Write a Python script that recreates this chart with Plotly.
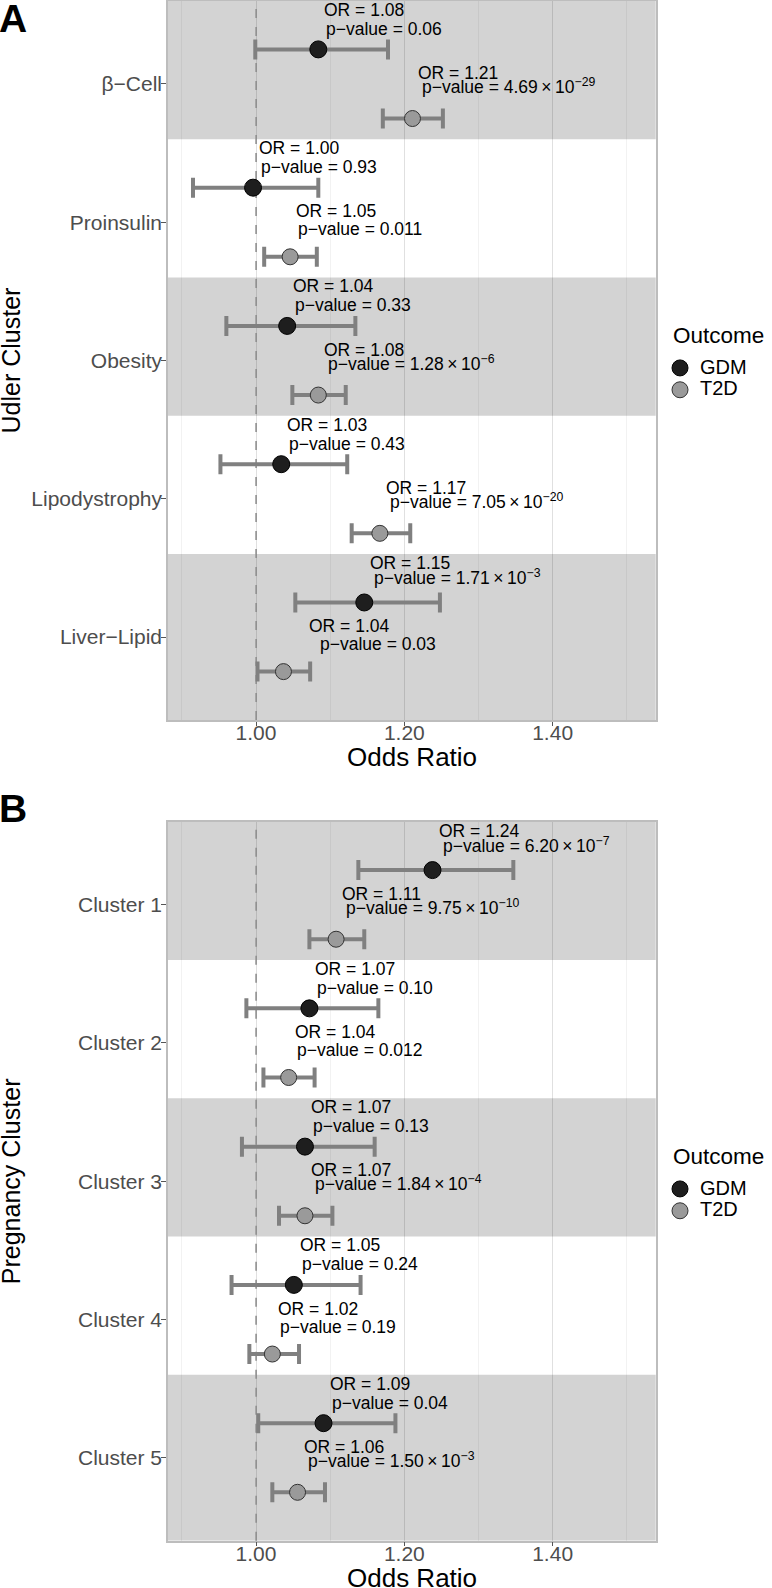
import plotly.graph_objects as go

W, H = 772, 1588
FONT = "Liberation Sans, Arial, Helvetica, sans-serif"

# ---------------- data ----------------
udler_clusters = ["\u03b2\u2212Cell", "Proinsulin", "Obesity", "Lipodystrophy", "Liver\u2212Lipid"]
udler_gdm_or = [1.084, 0.996, 1.042, 1.034, 1.146]
udler_gdm_lo = [0.999, 0.915, 0.960, 0.952, 1.053]
udler_gdm_hi = [1.178, 1.084, 1.134, 1.123, 1.248]
udler_gdm_label = ["1.08", "1.00", "1.04", "1.03", "1.15"]
udler_gdm_p = ["0.06", "0.93", "0.33", "0.43", "1.71e-3"]
udler_t2d_or = [1.211, 1.046, 1.084, 1.167, 1.037]
udler_t2d_lo = [1.171, 1.011, 1.049, 1.129, 1.002]
udler_t2d_hi = [1.252, 1.082, 1.121, 1.208, 1.073]
udler_t2d_label = ["1.21", "1.05", "1.08", "1.17", "1.04"]
udler_t2d_p = ["4.69e-29", "0.011", "1.28e-6", "7.05e-20", "0.03"]

preg_clusters = ["Cluster 1", "Cluster 2", "Cluster 3", "Cluster 4", "Cluster 5"]
preg_gdm_or = [1.238, 1.072, 1.066, 1.051, 1.091]
preg_gdm_lo = [1.138, 0.987, 0.981, 0.967, 1.003]
preg_gdm_hi = [1.347, 1.165, 1.160, 1.141, 1.188]
preg_gdm_label = ["1.24", "1.07", "1.07", "1.05", "1.09"]
preg_gdm_p = ["6.20e-7", "0.10", "0.13", "0.24", "0.04"]
preg_t2d_or = [1.108, 1.044, 1.066, 1.022, 1.056]
preg_t2d_lo = [1.072, 1.010, 1.031, 0.991, 1.022]
preg_t2d_hi = [1.146, 1.079, 1.103, 1.058, 1.093]
preg_t2d_label = ["1.11", "1.04", "1.07", "1.02", "1.06"]
preg_t2d_p = ["9.75e-10", "0.012", "1.84e-4", "0.19", "1.50e-3"]

x_ticks = [1.00, 1.20, 1.40]
x_minor = [0.90, 1.10, 1.30, 1.50]
x_range = [0.8813, 1.539]

# ---------------- style ----------------
GDM_FILL, GDM_LINE = "#1e1e1e", "#000000"
T2D_FILL, T2D_LINE = "#9a9a9a", "#333333"
ERR_COLOR = "#808080"
BAND = "#d3d3d3"
TICK_COLOR = "#4d4d4d"
LABEL_FONT = 17.5

# label offsets in pixels (relative to the point)
OFF = {
    "GDM": dict(l1=39.5, l2_plain=20.5, l2_sci=25.5),
    "T2D": dict(l1=45.5, l2_plain=27.5, l2_sci=32.5),
}
XS_L1 = 4
XS_L2_PLAIN = 6
XS_L2_SCI = 8
# special horizontal offsets (panel, outcome, index) -> (l1, l2)
XS_SPECIAL = {(0, "T2D", 4): (24, 35)}


def fmt_p(s):
    if "e" in s:
        m, e = s.split("e")
        return f"p\u2212value = {m}\u2009\u00d7\u200910<sup>\u2212{e.lstrip('-')}</sup>", True
    return f"p\u2212value = {s}", False


panels = [
    dict(top=1.0, bottom=720.0, cats=udler_clusters, title="Udler Cluster", label="A",
         label_y=19, legend_title_y=335, legend_top=352,
         series={"GDM": (udler_gdm_or, udler_gdm_lo, udler_gdm_hi, udler_gdm_label, udler_gdm_p),
                 "T2D": (udler_t2d_or, udler_t2d_lo, udler_t2d_hi, udler_t2d_label, udler_t2d_p)}),
    dict(top=821.7, bottom=1540.7, cats=preg_clusters, title="Pregnancy Cluster", label="B",
         label_y=808, legend_title_y=1156, legend_top=1173,
         series={"GDM": (preg_gdm_or, preg_gdm_lo, preg_gdm_hi, preg_gdm_label, preg_gdm_p),
                 "T2D": (preg_t2d_or, preg_t2d_lo, preg_t2d_hi, preg_t2d_label, preg_t2d_p)}),
]

X_LEFT, X_RIGHT = 168.0, 655.7

fig = go.Figure()
shapes = []
annotations = []
layout = {}

for k, pn in enumerate(panels):
    sfx = "" if k == 0 else str(k + 1)
    xa, ya = "x" + sfx, "y" + sfx
    legend_name = "legend" if k == 0 else "legend2"
    n = len(pn["cats"])
    pos = [n - i for i in range(n)]  # top category highest

    for outcome, dodge in (("GDM", 0.25), ("T2D", -0.25)):
        orv, lo, hi, lab, pv = pn["series"][outcome]
        fill = GDM_FILL if outcome == "GDM" else T2D_FILL
        edge = GDM_LINE if outcome == "GDM" else T2D_LINE
        size = 17 if outcome == "GDM" else 16
        ys = [p + dodge for p in pos]
        fig.add_trace(go.Scatter(
            x=orv, y=ys, mode="markers", xaxis=xa, yaxis=ya,
            name=f"<span style='font-size:20px'>{outcome}</span>",
            legend=legend_name,
            marker=dict(color=fill, size=size, line=dict(color=edge, width=1)),
            error_x=dict(type="data", symmetric=False,
                         array=[h - o for h, o in zip(hi, orv)],
                         arrayminus=[o - l for o, l in zip(orv, lo)],
                         color=ERR_COLOR, thickness=4, width=10),
            hoverinfo="skip",
        ))
        for i, (o, y, lb, p) in enumerate(zip(orv, ys, lab, pv)):
            ptxt, sci = fmt_p(p)
            xs1, xs2 = XS_SPECIAL.get((k, outcome, i),
                                      (XS_L1, XS_L2_SCI if sci else XS_L2_PLAIN))
            off = OFF[outcome]
            annotations.append(dict(
                x=o, y=y, xref=xa, yref=ya, text=f"OR = {lb}", showarrow=False,
                xanchor="left", yanchor="middle", xshift=xs1, yshift=off["l1"],
                font=dict(family=FONT, size=LABEL_FONT, color="#000")))
            annotations.append(dict(
                x=o, y=y, xref=xa, yref=ya, text=ptxt, showarrow=False,
                xanchor="left", yanchor="middle", xshift=xs2,
                yshift=off["l2_sci"] if sci else off["l2_plain"],
                font=dict(family=FONT, size=LABEL_FONT, color="#000")))

    # alternating bands
    for i, p in enumerate(pos):
        if i % 2 == 0:
            y0 = p - 0.4 if i < n - 1 else 0.4
            y1 = p + 0.6
            shapes.append(dict(type="rect", xref=xa + " domain", yref=ya, x0=0, x1=1,
                               y0=y0, y1=y1, fillcolor=BAND, line=dict(width=0),
                               layer="below"))
    # reference line at OR = 1
    shapes.append(dict(type="line", xref=xa, yref=ya + " domain", x0=1, x1=1, y0=0, y1=1,
                       line=dict(color="#9a9a9a", width=1.6, dash="dash"), layer="below"))

    dom_y = [1 - pn["bottom"] / H, 1 - pn["top"] / H]
    axis_x = dict(
        domain=[X_LEFT / W, X_RIGHT / W], range=x_range, anchor=ya, automargin=False,
        tickmode="array", tickvals=x_ticks, ticktext=[f"{v:.2f}" for v in x_ticks],
        ticks="outside", ticklen=4, tickwidth=1, tickcolor="#555",
        ticklabelstandoff=-11,
        tickfont=dict(family=FONT, size=21, color=TICK_COLOR),
        showgrid=True, gridcolor="rgba(0,0,0,0.12)", gridwidth=1,
        minor=dict(tickmode="array", tickvals=x_minor, showgrid=True,
                   gridcolor="rgba(0,0,0,0.05)", gridwidth=1, ticks=""),
        showline=True, mirror=True, linecolor="#bdbdbd", linewidth=1.5,
        zeroline=False, fixedrange=True,
    )
    axis_y = dict(
        domain=dom_y, range=[0.4, n + 0.6], anchor=xa, automargin=False,
        tickmode="array", tickvals=pos, ticktext=pn["cats"],
        ticks="outside", ticklen=5, tickwidth=1, tickcolor="#555",
        ticklabelstandoff=-5,
        tickfont=dict(family=FONT, size=21, color=TICK_COLOR),
        showgrid=False, zeroline=False,
        showline=True, mirror=True, linecolor="#bdbdbd", linewidth=1.5, fixedrange=True,
    )
    layout["xaxis" + sfx] = axis_x
    layout["yaxis" + sfx] = axis_y

    # axis titles
    annotations.append(dict(
        x=(X_LEFT + X_RIGHT) / 2 / W, y=1 - (pn["bottom"] + 37) / H, xref="paper", yref="paper",
        text="Odds Ratio", showarrow=False, xanchor="center", yanchor="middle",
        font=dict(family=FONT, size=26, color="#000")))
    annotations.append(dict(
        x=11 / W, y=1 - (pn["top"] + pn["bottom"]) / 2 / H, xref="paper", yref="paper",
        text=pn["title"], showarrow=False, textangle=-90, xanchor="center", yanchor="middle",
        font=dict(family=FONT, size=25, color="#000")))
    # panel letter
    annotations.append(dict(
        x=0, y=1 - pn["label_y"] / H, xref="paper", yref="paper",
        text=f"<b>{pn['label']}</b>", showarrow=False, xanchor="left", yanchor="middle",
        xshift=-3, font=dict(family=FONT, size=39, color="#000")))
    # legend title
    annotations.append(dict(
        x=671 / W, y=1 - pn["legend_title_y"] / H, xref="paper", yref="paper",
        text="Outcome", showarrow=False, xanchor="left", yanchor="middle",
        font=dict(family=FONT, size=22.5, color="#000")))
    layout[legend_name] = dict(
        x=660 / W, y=1 - pn["legend_top"] / H, xanchor="left", yanchor="top",
        bgcolor="rgba(0,0,0,0)", font=dict(family=FONT, size=14.5, color="#000"),
        tracegroupgap=0, itemclick=False, itemdoubleclick=False,
    )

fig.update_layout(
    width=W, height=H, margin=dict(l=0, r=0, t=0, b=0, autoexpand=False),
    paper_bgcolor="white", plot_bgcolor="white",
    showlegend=True, shapes=shapes, annotations=annotations,
    font=dict(family=FONT),
    **layout,
)

fig.write_html("out.html", config={"displayModeBar": False, "staticPlot": False},
               post_script="document.body.style.margin='0';")
